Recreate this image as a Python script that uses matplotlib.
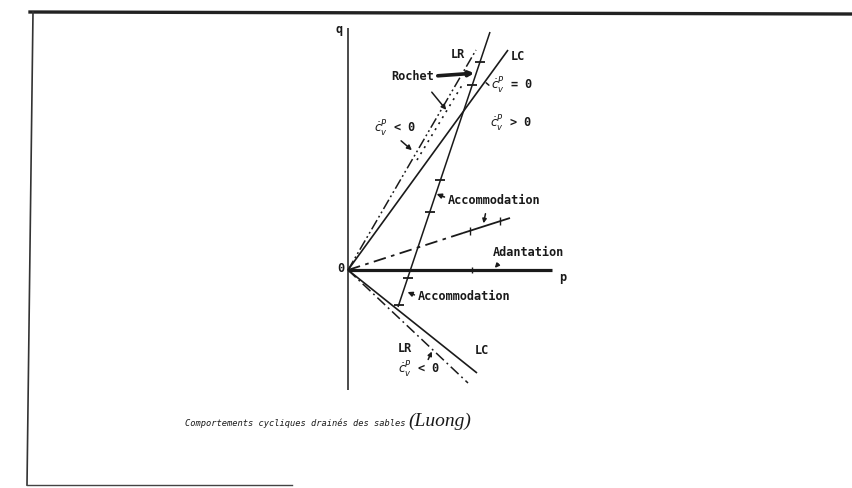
import numpy as np
import matplotlib
matplotlib.use("Agg")
import matplotlib.pyplot as plt
from matplotlib.lines import Line2D

plt.rcParams["mathtext.fontset"] = "dejavusans"

# ---------------- data (p, q units) ----------------
q_axis_q = [-12.0, 24.2]
p_axis_p = [0.0, 20.4]
p_axis_ticks = [12.4]

lc_up_p = [0.0, 16.0]
lc_up_q = [0.0, 22.0]
lr_up_p = [0.0, 12.8]
lr_up_q = [0.0, 22.0]
rochet_dots_p = [6.9, 11.6]
rochet_dots_q = [11.0, 18.8]

steep_p = [14.2, 5.0]
steep_q = [23.8, -3.7]
steep_ticks_q = [20.8, 18.5, 9.0, 5.8, -0.8, -3.5]

mid_dash_p = [0.0, 11.5]
mid_dash_q = [0.0, 3.7]
mid_solid_p = [11.5, 16.2]
mid_solid_q = [3.7, 5.2]
mid_ticks_p = [12.2, 15.2]

lc_low_p = [0.0, 12.9]
lc_low_q = [0.0, -10.3]
lr_low_p = [0.0, 12.0]
lr_low_q = [0.0, -11.3]

caption = "Comportements cycliques drainés des sables"
author = "(Luong)"

W, H = 852, 488
fig = plt.figure(figsize=(W / 100, H / 100), dpi=100)
fig.patch.set_facecolor("white")

# frame of the scanned figure (figure pixel coords)
def fx(x):
    return x / W

def fy(y):
    return 1 - y / H

fig.add_artist(Line2D([fx(30), fx(852)], [fy(12), fy(14)], color="#222", lw=2.4))
fig.add_artist(Line2D([fx(33), fx(27)], [fy(12), fy(485)], color="#333", lw=1.2))
fig.add_artist(Line2D([fx(27), fx(292)], [fy(485), fy(485)], color="#444", lw=1.0))

ax = fig.add_axes([298 / W, (H - 400) / H, 300 / W, 380 / H])
ax.set_xlim(-5, 25)
ax.set_ylim(-13, 25)
ax.axis("off")

k = dict(color="#1a1a1a", clip_on=False, solid_capstyle="butt")

# axes
ax.plot([0, 0], q_axis_q, lw=1.1, **k)
ax.plot(p_axis_p, [0, 0], lw=2.3, **k)
ax.plot(p_axis_ticks, [0] * len(p_axis_ticks), ls="none", marker="|", ms=4, mew=1, color="#1a1a1a")

# upper limit lines
ax.plot(lc_up_p, lc_up_q, lw=1.2, **k)
ax.plot(lr_up_p, lr_up_q, lw=1.1, dashes=(7, 2, 1.2, 2, 1.2, 2), **k)
ax.plot(rochet_dots_p, rochet_dots_q, lw=1.2, dashes=(1.2, 3), **k)

# steep loading path
ax.plot(steep_p, steep_q, lw=1.1, **k)
sp = np.interp(steep_ticks_q, steep_q[::-1], steep_p[::-1])
ax.plot(sp, steep_ticks_q, ls="none", marker="_", ms=7, mew=1.3, color="#1a1a1a", clip_on=False)

# middle path
ax.plot(mid_dash_p, mid_dash_q, lw=1.3, dashes=(7, 3, 2, 3), **k)
ax.plot(mid_solid_p, mid_solid_q, lw=1.3, **k)
mq = np.interp(mid_ticks_p, mid_solid_p, mid_solid_q)
ax.plot(mid_ticks_p, mq, ls="none", marker="|", ms=6, mew=1, color="#1a1a1a", clip_on=False)

# lower limit lines
ax.plot(lc_low_p, lc_low_q, lw=1.2, **k)
ax.plot(lr_low_p, lr_low_q, lw=1.1, dashes=(7, 2.5, 1.2, 2.5), **k)

# labels
lab = dict(family="DejaVu Sans Mono", fontsize=8.6, fontweight="bold", color="#1a1a1a")
ax.text(-0.5, 24.0, "q", ha="right", va="center", **lab)
ax.text(-0.4, 0.2, "0", ha="right", va="center", **lab)
ax.text(21.5, -0.8, "p", ha="center", va="center", **lab)

ax.text(11.0, 21.5, "LR", ha="center", va="center", **lab)
ax.text(17.0, 21.3, "LC", ha="center", va="center", **lab)
ax.text(8.6, 19.3, "Rochet", ha="right", va="center", **lab)
ax.annotate("", xy=(12.9, 19.7), xytext=(8.7, 19.4),
            arrowprops=dict(arrowstyle="-|>", lw=2.6, color="#1a1a1a", mutation_scale=7))
ax.annotate("", xy=(10.0, 15.8), xytext=(8.2, 18.0),
            arrowprops=dict(arrowstyle="-|>", lw=1.1, color="#1a1a1a", mutation_scale=7))

ax.text(14.3, 18.4, r"$\dot{c}_v^P$ = 0", ha="left", va="center", **lab)
ax.annotate("", xy=(13.6, 18.9), xytext=(14.3, 18.3),
            arrowprops=dict(arrowstyle="-", lw=1.1, color="#1a1a1a"))
ax.text(14.2, 14.6, r"$\dot{c}_v^P$ > 0", ha="left", va="center", **lab)
ax.text(2.6, 14.1, r"$\dot{c}_v^P$ < 0", ha="left", va="center", **lab)
ax.annotate("", xy=(6.6, 11.8), xytext=(5.1, 13.1),
            arrowprops=dict(arrowstyle="-|>", lw=1.1, color="#1a1a1a", mutation_scale=7))

ax.text(10.0, 7.0, "Accommodation", ha="left", va="center", **lab)
ax.annotate("", xy=(8.6, 7.7), xytext=(9.9, 7.2),
            arrowprops=dict(arrowstyle="-|>", lw=1.2, color="#1a1a1a", mutation_scale=7))
ax.annotate("", xy=(13.5, 4.4), xytext=(13.8, 5.9),
            arrowprops=dict(arrowstyle="-|>", lw=1.1, color="#1a1a1a", mutation_scale=6))

ax.text(14.5, 1.7, "Adantation", ha="left", va="center", **lab)
ax.annotate("", xy=(14.5, 0.0), xytext=(15.2, 0.8),
            arrowprops=dict(arrowstyle="-|>", lw=1.1, color="#1a1a1a", mutation_scale=6))

ax.text(7.0, -2.7, "Accommodation", ha="left", va="center", **lab)
ax.annotate("", xy=(5.7, -2.1), xytext=(6.9, -2.6),
            arrowprops=dict(arrowstyle="-|>", lw=1.1, color="#1a1a1a", mutation_scale=7))

ax.text(5.7, -7.8, "LR", ha="center", va="center", **lab)
ax.text(13.4, -8.0, "LC", ha="center", va="center", **lab)
ax.text(5.0, -10.0, r"$\dot{c}_v^P$ < 0", ha="left", va="center", **lab)
ax.annotate("", xy=(8.5, -7.9), xytext=(7.9, -9.2),
            arrowprops=dict(arrowstyle="-|>", lw=1.1, color="#1a1a1a", mutation_scale=6))

# caption
fig.text(fx(185), fy(423), caption, ha="left", va="center", family="DejaVu Sans Mono",
         style="oblique", fontsize=6.3, color="#1a1a1a")
fig.text(fx(408), fy(421), author, ha="left", va="center", family="Liberation Serif",
         style="italic", fontsize=14, color="#1a1a1a")

fig.savefig("out.png", dpi=100, facecolor="white")
